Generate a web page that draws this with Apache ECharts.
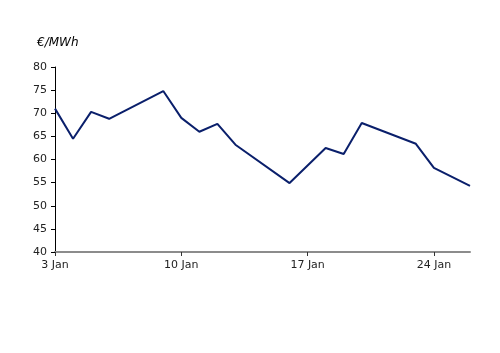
<!DOCTYPE html>
<html>
<head>
<meta charset="utf-8">
<script src="https://cdn.jsdelivr.net/npm/echarts@6/dist/echarts.min.js"></script>
<style>html,body{margin:0;padding:0;background:#fff}#c{width:500px;height:353px}</style>
</head>
<body>
<div id="c"></div>
<script>
// Data: day of January and price (€/MWh)
var days = [3, 4, 5, 6, 9, 10, 11, 12, 13, 16, 18, 19, 20, 23, 24, 26];
var prices = [71.0, 64.5, 70.3, 68.8, 74.8, 69.0, 66.0, 67.7, 63.2, 54.9, 62.5, 61.2, 67.9, 63.4, 58.2, 54.3];
var startDay = 3;
var endDay = 26;
var tickDays = [3, 10, 17, 24];
var monthLabel = 'Jan';
var unitLabel = '€/MWh';
var yMin = 40, yMax = 80, yStep = 5;

var chart = echarts.init(document.getElementById('c'), null, {renderer: 'canvas'});
var seriesData = days.map(function (d, i) { return [d - startDay, prices[i]]; });
chart.setOption({
  animation: false,
  backgroundColor: '#ffffff',
  grid: {left: 55, right: 30, top: 67, bottom: 101, containLabel: false},
  graphic: [{
    type: 'text', left: 37, top: 37,
    style: {text: unitLabel, font: 'italic 12px "DejaVu Sans", sans-serif', fill: '#000'}
  }],
  xAxis: {
    type: 'value',
    min: 0,
    max: endDay - startDay,
    interval: 7,
    axisLine: {show: true, onZero: false, lineStyle: {color: '#8c8c8c', width: 2}},
    axisTick: {show: true, length: 4, lineStyle: {color: '#333', width: 1}},
    axisLabel: {
      color: '#222', fontSize: 11, fontFamily: '"DejaVu Sans", sans-serif', margin: 8,
      showMaxLabel: false,
      formatter: function (v) { return (v + startDay) + ' ' + monthLabel; }
    },
    splitLine: {show: false}
  },
  yAxis: {
    type: 'value',
    min: yMin, max: yMax, interval: yStep,
    axisLine: {show: true, lineStyle: {color: '#000', width: 1}},
    axisTick: {show: true, length: 4, lineStyle: {color: '#000'}},
    axisLabel: {color: '#222', fontSize: 11, fontFamily: '"DejaVu Sans", sans-serif', margin: 8},
    splitLine: {show: false}
  },
  series: [{
    type: 'line',
    data: seriesData,
    showSymbol: false,
    symbol: 'none',
    lineStyle: {color: '#0a1f6b', width: 2},
    clip: false
  }]
});
</script>
</body>
</html>
